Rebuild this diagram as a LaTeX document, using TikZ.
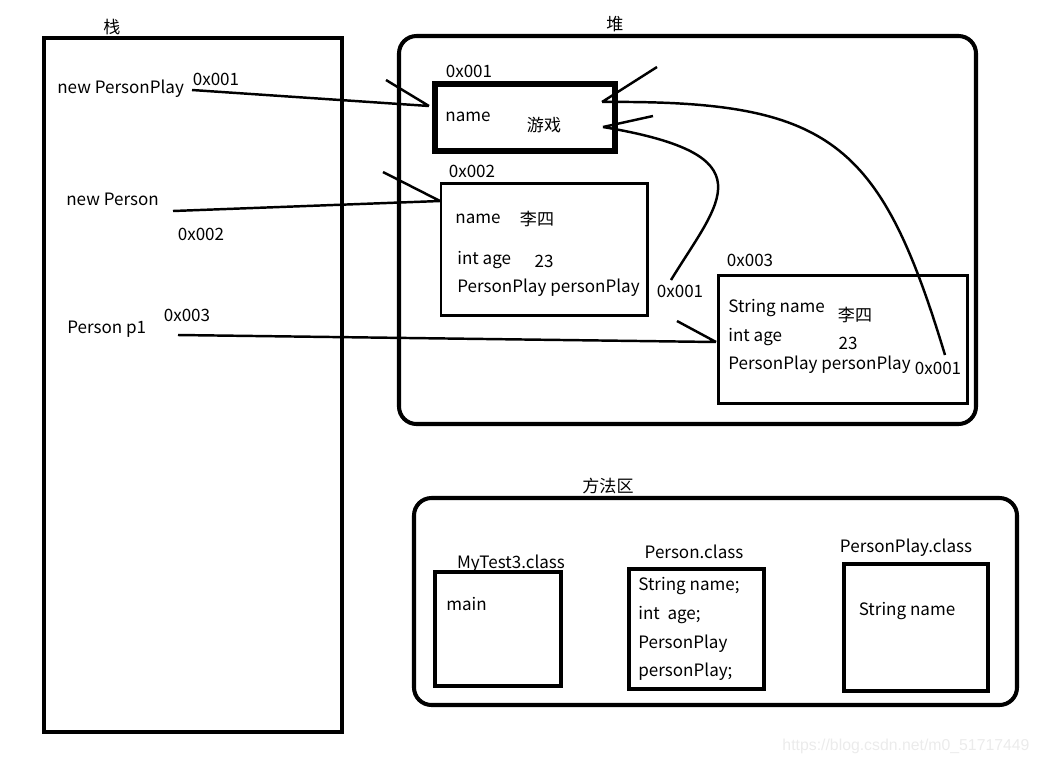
\documentclass[tikz,border=0pt]{standalone}
\usepackage{fontspec}
\setmainfont{Noto Sans CJK SC}
\newfontfamily\wmfont{Liberation Sans}
\usetikzlibrary{fit}
\tikzset{
  area/.style={draw, line width=2.3pt, rounded corners=0.35cm, inner sep=0pt},
  stackbox/.style={draw, line width=2.3pt, inner sep=0pt},
  objbox/.style={draw, line width=1.7pt, inner sep=0pt},
  boldbox/.style={draw, line width=3.1pt, inner sep=0pt},
  classbox/.style={draw, line width=2.5pt, inner sep=0pt},
  txt/.style={inner sep=0pt, yshift=-1pt, font=\fontsize{9.7}{12}\selectfont},
  link/.style={line width=1.4pt},
}
\begin{document}
\begin{tikzpicture}[x=0.02cm, y=-0.02cm]
\useasboundingbox (0,0) rectangle (1038,765);

\node[stackbox, fit={(44,38) (342,732)}] (stack) {};
\node[txt] (stacklbl) at (112,25) {栈};
\node[area, fit={(399,36) (976,424)}] (heap) {};
\node[txt] (heaplbl) at (615,22) {堆};
\node[area, fit={(414,498) (1017,705)}] (method) {};
\node[txt] (methodlbl) at (608,484) {方法区};

\node[txt, anchor=west] (newpp) at (57,87) {new PersonPlay};
\node[txt] (addr1) at (216,78) {0x001};
\node[txt, anchor=west] (newp) at (66,198) {new Person};
\node[txt] (addr2) at (201,233) {0x002};
\node[txt, anchor=west] (pone) at (67,327) {Person p1};
\node[txt] (addr3) at (187,314) {0x003};

\node[boldbox, fit={(435,84) (615,151)}] (obj1) {};
\node[txt] (obj1addr) at (469,70) {0x001};
\node[txt] (obj1name) at (468,115) {name};
\node[txt] (obj1val) at (544,123) {游戏};

\node[objbox, fit={(441,183) (647,315)}] (obj2) {};
\node[txt] (obj2addr) at (472,170) {0x002};
\node[txt, anchor=west] (obj2name) at (455,217) {name};
\node[txt] (obj2nval) at (537,217) {李四};
\node[txt, anchor=west] (obj2age) at (457,258) {int age};
\node[txt] (obj2aval) at (544,260) {23};
\node[txt, anchor=west] (obj2pp) at (457,286) {PersonPlay personPlay};
\node[txt] (obj2ref) at (680,290) {0x001};

\node[objbox, fit={(718,275) (967,403)}] (obj3) {};
\node[txt] (obj3addr) at (750,259) {0x003};
\node[txt, anchor=west] (obj3name) at (728,306) {String name};
\node[txt] (obj3nval) at (855,313) {李四};
\node[txt, anchor=west] (obj3age) at (728,335) {int age};
\node[txt] (obj3aval) at (848,342) {23};
\node[txt, anchor=west] (obj3pp) at (728,363) {PersonPlay personPlay};
\node[txt] (obj3ref) at (938,367) {0x001};

\node[classbox, fit={(435,572) (561,686)}] (mytest) {};
\node[txt] (mytestlbl) at (511,562) {MyTest3.class};
\node[txt, anchor=west] (mytestmain) at (446,602) {main};
\node[classbox, fit={(629,569) (764,689)}] (pclass) {};
\node[txt] (pclasslbl) at (694,550) {Person.class};
\node[txt, anchor=west] (pc1) at (638,584) {String name;};
\node[txt, anchor=west] (pc2) at (638,613) {int~ age;};
\node[txt, anchor=west] (pc3) at (638,642) {PersonPlay};
\node[txt, anchor=west] (pc4) at (638,670) {personPlay;};
\node[classbox, fit={(844,564) (988,691)}] (ppclass) {};
\node[txt] (ppclasslbl) at (906,546) {PersonPlay.class};
\node[txt] (ppname) at (907,609) {String name};

\coordinate (s1) at (192,90);
\coordinate (e1) at (429,106);
\coordinate (k1) at (386,80);
\draw[link] (s1) -- (e1) (k1) -- (e1);
\coordinate (s2) at (173,211);
\coordinate (e2) at (440,201);
\coordinate (k2) at (383,172);
\draw[link] (s2) -- (e2) (k2) -- (e2);
\coordinate (s3) at (178,335);
\coordinate (e3) at (716,342);
\coordinate (k3) at (677,321);
\draw[link] (s3) -- (e3) (k3) -- (e3);
\coordinate (s4) at (945,355);
\coordinate (e4) at (602,102);
\coordinate (k4) at (657,67);
\draw[link] (s4) .. controls (880,140) and (830,100) .. (e4) (k4) -- (e4);
\coordinate (s5) at (671,280);
\coordinate (e5) at (603,127);
\coordinate (k5) at (653,116);
\draw[link] (s5) .. controls (720,200) and (770,155) .. (e5) (k5) -- (e5);

\node[inner sep=0pt, font=\fontsize{9}{10}\selectfont\wmfont, text=black!8] (wm) at (906,746) {https://blog.csdn.net/m0\_51717449};
\end{tikzpicture}
\end{document}
